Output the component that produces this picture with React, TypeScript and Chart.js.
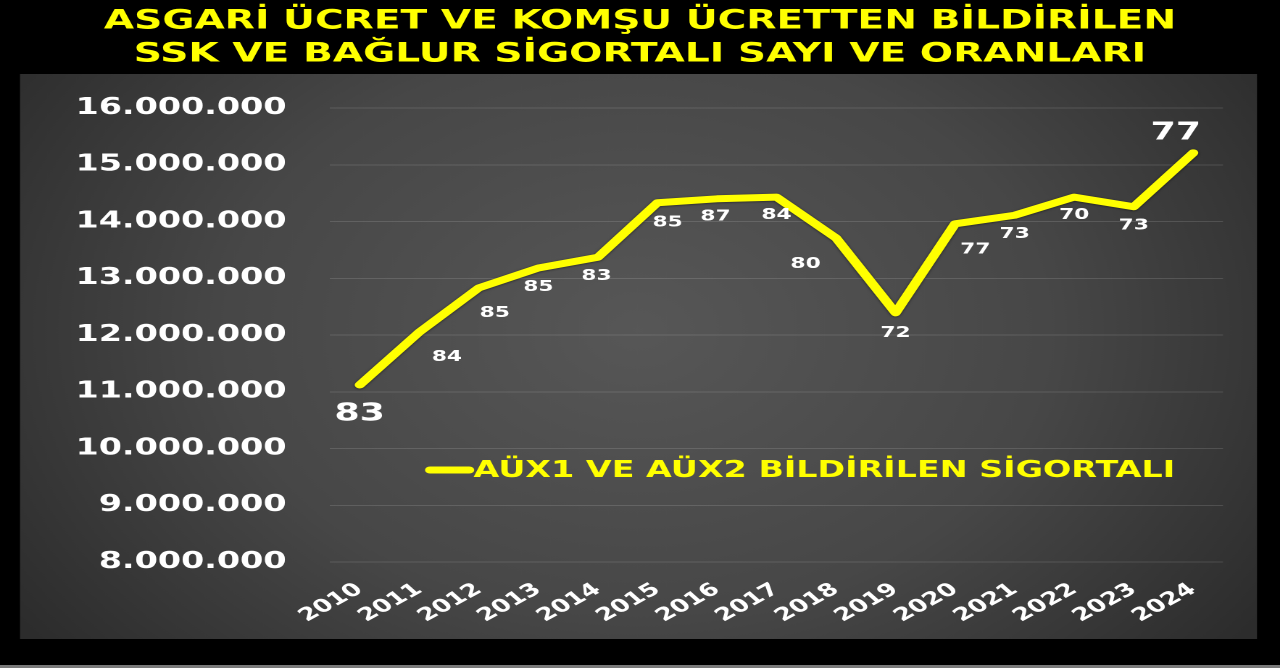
import { useEffect, useRef } from "react"
import { Chart, registerables } from "chart.js"

Chart.register(...registerables)

// the reference picture is stretched sideways, so the chart is drawn narrower and scaled in css
const STRETCH = 1280 / 883

const years = ["2010", "2011", "2012", "2013", "2014", "2015", "2016", "2017", "2018", "2019", "2020", "2021", "2022", "2023", "2024"]
const insured = [
  11120000, 12050000, 12830000, 13180000, 13370000, 14330000, 14400000, 14430000,
  13710000, 12390000, 13960000, 14110000, 14430000, 14260000, 15210000,
]
const ratios = [83, 84, 85, 85, 83, 85, 87, 84, 80, 72, 77, 73, 70, 73, 77]
// small nudges for the ratio labels (dx, dy from the point)
const labelNudge: [number, number][] = [
  [0, 29], [19, 25], [11, 25], [0, 19], [-1, 19], [7, 20], [-1, 18], [0, 18],
  [-21, 26], [0, 20], [14, 26], [0, 19], [0, 18], [0, 19], [-12, -20],
]
const bigLabels = [0, 14]

const titleLines = ["ASGARİ ÜCRET VE KOMŞU ÜCRETTEN BİLDİRİLEN", "SSK VE BAĞLUR SİGORTALI SAYI VE ORANLARI"]
const seriesName = "AÜX1 VE AÜX2 BİLDİRİLEN SİGORTALI"

const FONT = "'DejaVu Sans', Verdana, sans-serif"
const YELLOW = "#ffff00"

const fmt = (v: number) => String(v).replace(/\B(?=(\d{3})+(?!\d))/g, ".")

const panelPlugin = {
  id: "panel",
  beforeDraw(chart: any) {
    const { ctx, width, height } = chart
    ctx.save()
    ctx.fillStyle = "#000"
    ctx.fillRect(0, 0, width, height)
    const x0 = 20 / STRETCH
    const x1 = 1257 / STRETCH
    const y0 = 74
    const y1 = 639
    const g = ctx.createRadialGradient(440, 330, 0, 440, 330, 520)
    g.addColorStop(0, "#575757")
    g.addColorStop(0.55, "#474747")
    g.addColorStop(1, "#2c2c2c")
    ctx.fillStyle = g
    ctx.fillRect(x0, y0, x1 - x0, y1 - y0)
    ctx.fillStyle = "#7a7a7a"
    ctx.fillRect(0, 665, width, 3)
    ctx.restore()
  },
}

const shadowPlugin = {
  id: "lineShadow",
  beforeDatasetsDraw(chart: any) {
    const ctx = chart.ctx
    ctx.save()
    ctx.shadowColor = "rgba(0,0,0,0.55)"
    ctx.shadowBlur = 4
    ctx.shadowOffsetY = 1
  },
  afterDatasetsDraw(chart: any) {
    chart.ctx.restore()
  },
}

const ratioPlugin = {
  id: "ratioLabels",
  afterDatasetsDraw(chart: any) {
    const { ctx } = chart
    const meta = chart.getDatasetMeta(0)
    ctx.save()
    ctx.fillStyle = "#ffffff"
    ctx.textAlign = "center"
    ctx.textBaseline = "middle"
    meta.data.forEach((pt: any, i: number) => {
      const big = bigLabels.includes(i)
      ctx.font = `bold ${big ? 25 : 15}px ${FONT}`
      ctx.fillText(String(ratios[i]), pt.x + labelNudge[i][0], pt.y + labelNudge[i][1])
    })
    ctx.restore()
  },
}

const legendPlugin = {
  id: "inlineLegend",
  afterDraw(chart: any) {
    const { ctx, chartArea } = chart
    const x = chartArea.left + 66
    const y = chartArea.top + 362
    ctx.save()
    ctx.strokeStyle = YELLOW
    ctx.lineWidth = 7
    ctx.lineCap = "round"
    ctx.beginPath()
    ctx.moveTo(x + 3, y)
    ctx.lineTo(x + 30, y)
    ctx.stroke()
    ctx.fillStyle = YELLOW
    ctx.font = `bold 23px ${FONT}`
    ctx.textBaseline = "middle"
    ctx.fillText(seriesName, x + 33, y + 1)
    ctx.restore()
  },
}

function InsuredChart() {
  const canvasRef = useRef<HTMLCanvasElement>(null)
  const chartRef = useRef<Chart | null>(null)

  useEffect(() => {
    if (!canvasRef.current) return
    if (chartRef.current) chartRef.current.destroy()

    const titleSize = 27
    const titleLh = 33 / titleSize
    const side = 883 - 1223 / STRETCH // same padding both sides keeps the title centred

    chartRef.current = new Chart(canvasRef.current, {
      type: "line",
      data: {
        labels: years,
        datasets: [
          {
            label: seriesName,
            data: insured,
            borderColor: YELLOW,
            borderWidth: 7,
            borderJoinStyle: "round",
            borderCapStyle: "round",
            pointRadius: 0,
            tension: 0,
            fill: false,
          },
        ],
      },
      options: {
        responsive: true,
        maintainAspectRatio: false,
        animation: false,
        devicePixelRatio: 2,
        layout: { padding: { left: side, right: side, top: 0, bottom: 0 } },
        plugins: {
          legend: { display: false },
          tooltip: { enabled: false },
          title: {
            display: true,
            text: titleLines,
            color: YELLOW,
            font: { family: FONT, size: titleSize, weight: "bold", lineHeight: titleLh },
            padding: { top: 5, bottom: 108 - 5 - 2 * 33 },
          },
        },
        scales: {
          x: {
            offset: true,
            grid: { display: false },
            border: { display: false },
            ticks: {
              color: "#ffffff",
              font: { family: FONT, size: 18, weight: "bold" },
              minRotation: 38,
              maxRotation: 38,
              padding: 9,
              autoSkip: false,
            },
            afterFit: (scale: any) => {
              scale.height = 668 - 562
            },
          },
          y: {
            min: 8000000,
            max: 16000000,
            grid: { color: "rgba(255,255,255,0.13)", lineWidth: 1, drawTicks: false },
            border: { display: false },
            ticks: {
              stepSize: 1000000,
              color: "#ffffff",
              font: { family: FONT, size: 23, weight: "bold" },
              padding: 30,
              callback: (v: any) => fmt(Number(v)),
            },
            afterFit: (scale: any) => {
              scale.width = 330 / STRETCH - side
            },
          },
        },
      },
      plugins: [panelPlugin, shadowPlugin, ratioPlugin, legendPlugin],
    })

    return () => {
      if (chartRef.current) {
        chartRef.current.destroy()
        chartRef.current = null
      }
    }
  }, [])

  return (
    <div style={{ position: "fixed", left: 0, top: 0, width: 1280, height: 668, background: "#000", overflow: "hidden" }}>
      <div style={{ width: 883, height: 668, transform: `scaleX(${STRETCH})`, transformOrigin: "0 0" }}>
        <canvas ref={canvasRef}></canvas>
      </div>
    </div>
  )
}

export default function App() {
  return <InsuredChart />
}
